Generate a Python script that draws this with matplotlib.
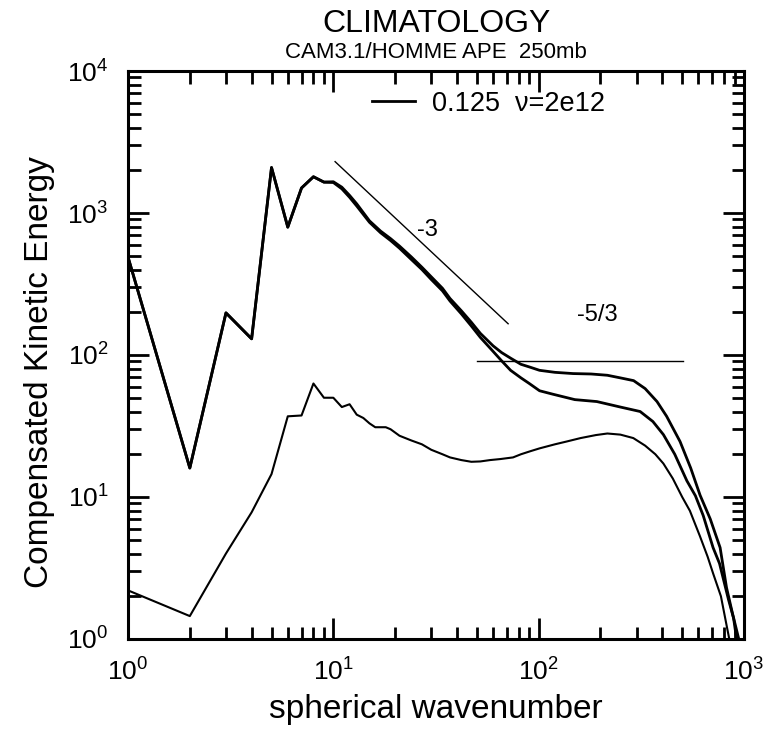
import matplotlib
matplotlib.use("Agg")
import matplotlib.pyplot as plt

plt.rcParams['font.family'] = ['Liberation Sans', 'DejaVu Sans']
plt.rcParams['mathtext.default'] = 'regular'

# top curve (0.125, nu=2e12) - upper of the three
k_top = [1, 2, 3, 4, 5, 6, 7, 8, 9, 10, 11, 12, 13, 15, 17, 19, 21, 24, 27, 30,
         34, 37, 42, 47, 52, 60, 66, 73, 82, 91, 101, 120, 147, 180, 216, 250,
         290, 330, 377, 420, 488, 550, 611, 685, 765, 822, 880, 960]
e_top = [490, 16, 198, 130, 2090, 795, 1500, 1800, 1650, 1660, 1520, 1330, 1160,
         880, 745, 660, 585, 490, 415, 355, 295, 250, 205, 170, 142, 116, 104,
         95, 86, 82, 78, 75.5, 74, 73.5, 72, 69, 66, 58, 47, 37, 24.6, 16,
         10.3, 7, 4.4, 2.3, 1.5, 0.9]

# middle curve
k_mid = [1, 2, 3, 4, 5, 6, 7, 8, 9, 10, 11, 12, 13, 15, 17, 19, 21, 24, 27, 30,
         34, 37, 42, 47, 52, 60, 66, 73, 82, 90, 101, 117, 150, 192, 250, 312,
         360, 405, 460, 527, 580, 633, 707, 760, 840, 890, 930]
e_mid = [490, 16, 198, 130, 2090, 795, 1500, 1800, 1650, 1640, 1480, 1290, 1120,
         860, 725, 640, 565, 470, 400, 340, 283, 240, 195, 160, 133, 106, 91,
         78, 69, 63, 56, 53, 48.5, 47, 43, 40, 34, 27.5, 20, 13, 10.2, 7.4,
         4.4, 3.4, 1.9, 1.4, 0.9]

# bottom curve
k_bot = [1, 2, 3, 4, 5, 6, 7, 8, 9, 10, 11, 12, 13, 14, 15, 16, 18, 19, 21, 24,
         27, 30, 34, 37, 42, 47, 52, 58, 65, 75, 82, 91, 101, 120, 137, 160,
         190, 216, 250, 289, 330, 370, 405, 450, 500, 545, 610, 665, 707, 772,
         827, 860]
e_bot = [2.2, 1.45, 4.0, 7.8, 14.5, 37, 37.5, 63, 50, 50, 43, 45, 38, 36, 33,
         31, 31, 30, 27, 25, 23.5, 21.5, 20, 19, 18.2, 17.7, 17.8, 18.2, 18.5,
         19, 20, 21, 22, 23.5, 24.6, 26, 27.3, 28, 27.5, 26, 23, 20, 17.2, 13.5,
         10, 8, 5.3, 3.8, 2.9, 2.0, 1.2, 0.9]

# reference slopes
k_m3 = [10.2, 71]
e_m3 = [2300, 166]
k_m53 = [50, 505]
e_m53 = [90, 90]

fig = plt.figure(figsize=(7.64, 7.32), dpi=100)
ax = fig.add_axes([128/764, 1-639/732, (744-128)/764, (639-71)/732])

ax.plot(k_top, e_top, color='black', lw=2.0, label='0.125  \u03bd=2e12')
ax.plot(k_mid, e_mid, color='black', lw=2.0)
ax.plot(k_bot, e_bot, color='black', lw=1.5)
ax.plot(k_m3, e_m3, color='black', lw=1.0)
ax.plot(k_m53, e_m53, color='black', lw=1.0)

ax.text(28.6, 760, '-3', fontsize=17, ha='center', va='center')
ax.text(192, 190, '-5/3', fontsize=17, ha='center', va='center')

ax.set_xscale('log')
ax.set_yscale('log')
ax.set_xlim(1, 1000)
ax.set_ylim(1, 1e4)

for s in ax.spines.values():
    s.set_linewidth(2.2)
ax.tick_params(which='both', direction='in', top=True, right=True, width=2.0,
               labelsize=19)
ax.tick_params(axis='x', pad=14)
ax.tick_params(axis='y', pad=14)
ax.tick_params(which='major', length=15)
ax.tick_params(which='minor', length=9)

ax.set_xlabel('spherical wavenumber', fontsize=24, labelpad=6)
ax.set_ylabel('Compensated Kinetic Energy', fontsize=24)
ax.yaxis.set_label_coords(-0.118, 0.47)

fig.text(0.5 * (128 + 744) / 764, 1 - 24/732, 'CLIMATOLOGY', fontsize=23,
         ha='center', va='center')
fig.text(0.5 * (128 + 744) / 764, 1 - 53/732, 'CAM3.1/HOMME APE  250mb',
         fontsize=16, ha='center', va='center')

leg = ax.legend(loc='upper left', bbox_to_anchor=((372 - 128) / 616, 0.965),
                frameon=False, fontsize=19.5, handlelength=1.6,
                handletextpad=0.63, borderpad=0, borderaxespad=0)

fig.savefig('out.png', dpi=100)
